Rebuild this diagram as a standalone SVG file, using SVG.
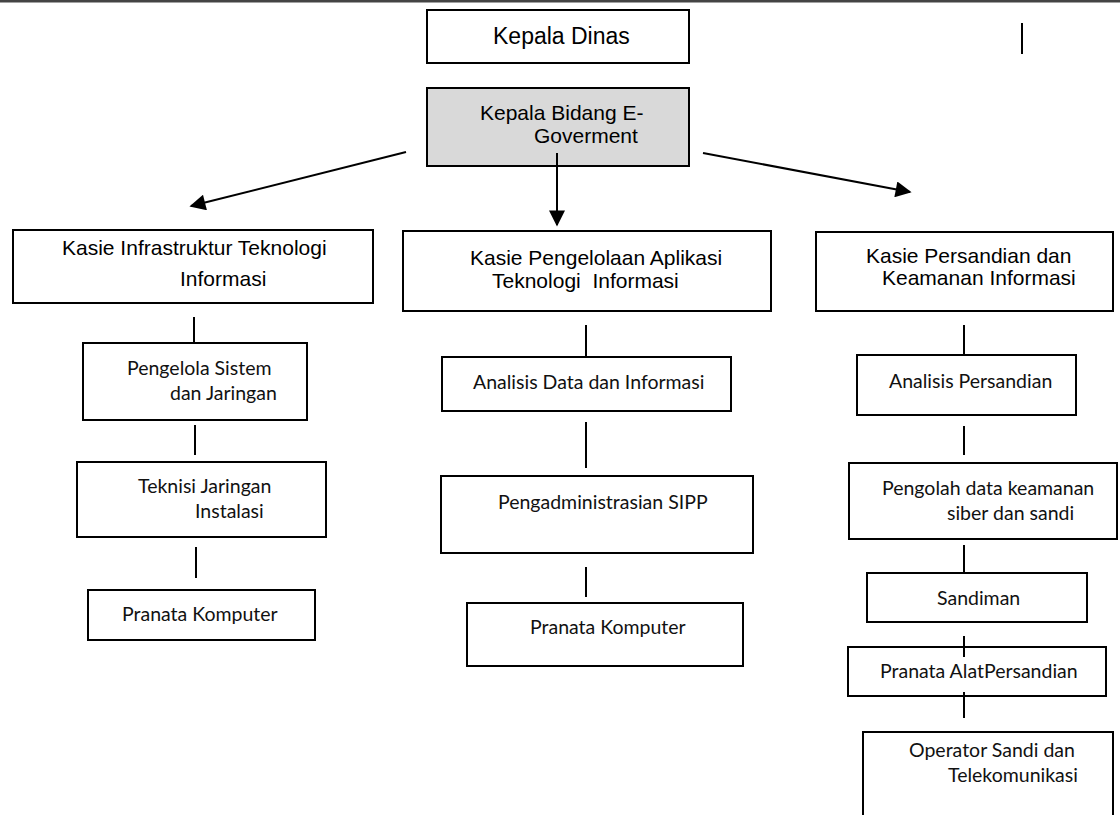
<svg xmlns="http://www.w3.org/2000/svg" width="1120" height="815" viewBox="0 0 1120 815">
  <style>
    .box { fill: #ffffff; stroke: #000000; stroke-width: 2; }
    .head { fill: #d9d9d9; stroke: #000000; stroke-width: 2; }
    .ar { font-family: "Liberation Sans", Arial, sans-serif; font-size: 21px; fill: #000000; }
    .big { font-size: 23px; }
    .cb { font-family: Lato, "Open Sans", "Liberation Sans", sans-serif; font-size: 19.5px; font-weight: 400; fill: #111111; }
    .ln { stroke: #000000; stroke-width: 2; fill: none; }
  </style>
  <defs>
    <marker id="arrow" viewBox="0 0 10 10" refX="9" refY="5" markerWidth="8.5" markerHeight="8" markerUnits="strokeWidth" orient="auto">
      <path d="M0,0 L10,5 L0,10 z" fill="#000000"/>
    </marker>
  </defs>

  <rect width="1120" height="815" fill="#ffffff"/>
  <!-- page rule at the top edge -->
  <line x1="0" y1="1" x2="1120" y2="1" stroke="#444444" stroke-width="3"/>
  <line x1="1022" y1="23" x2="1022" y2="54" class="ln"/>

  <g id="kepala-dinas">
    <rect x="427" y="10" width="262" height="53" class="box"/>
    <text x="493" y="44" class="ar big">Kepala Dinas</text>
  </g>

  <g id="kepala-bidang">
    <rect x="427" y="88" width="262" height="78" class="head"/>
    <text x="480" y="120" class="ar">Kepala Bidang E-</text>
    <text x="534" y="143" class="ar">Goverment</text>
  </g>

  <g id="kasie-infrastruktur">
    <rect x="13" y="230" width="360" height="73" class="box"/>
    <text x="62" y="255" class="ar">Kasie Infrastruktur Teknologi</text>
    <text x="180" y="286" class="ar">Informasi</text>
  </g>

  <g id="kasie-aplikasi">
    <rect x="403" y="231" width="368" height="80" class="box"/>
    <text x="470" y="265" class="ar">Kasie Pengelolaan Aplikasi</text>
    <text x="492" y="288" class="ar" xml:space="preserve">Teknologi  Informasi</text>
  </g>

  <g id="kasie-persandian">
    <rect x="816" y="232" width="297" height="79" class="box"/>
    <text x="866" y="263" class="ar">Kasie Persandian dan</text>
    <text x="882" y="285" class="ar">Keamanan Informasi</text>
  </g>

  <g id="pengelola-sistem">
    <rect x="83" y="343" width="224" height="77" class="box"/>
    <text x="127" y="375" class="cb">Pengelola Sistem</text>
    <text x="170" y="400" class="cb">dan Jaringan</text>
  </g>

  <g id="teknisi-jaringan">
    <rect x="77" y="462" width="249" height="75" class="box"/>
    <text x="138" y="493" class="cb">Teknisi Jaringan</text>
    <text x="195" y="518" class="cb">Instalasi</text>
  </g>

  <g id="pranata-komputer-1">
    <rect x="88" y="590" width="227" height="50" class="box"/>
    <text x="122" y="621" class="cb">Pranata Komputer</text>
  </g>

  <g id="analisis-data">
    <rect x="442" y="357" width="289" height="54" class="box"/>
    <text x="473" y="389" class="cb">Analisis Data dan Informasi</text>
  </g>

  <g id="pengadministrasian-sipp">
    <rect x="441" y="476" width="312" height="77" class="box"/>
    <text x="498" y="509" class="cb">Pengadministrasian SIPP</text>
  </g>

  <g id="pranata-komputer-2">
    <rect x="467" y="603" width="276" height="63" class="box"/>
    <text x="530" y="634" class="cb">Pranata Komputer</text>
  </g>

  <g id="analisis-persandian">
    <rect x="857" y="355" width="219" height="60" class="box"/>
    <text x="889" y="388" class="cb">Analisis Persandian</text>
  </g>

  <g id="pengolah-data">
    <rect x="849" y="463" width="268" height="76" class="box"/>
    <text x="882" y="495" class="cb">Pengolah data keamanan</text>
    <text x="947" y="520" class="cb">siber dan sandi</text>
  </g>

  <g id="sandiman">
    <rect x="867" y="573" width="220" height="49" class="box"/>
    <text x="937" y="605" class="cb">Sandiman</text>
  </g>

  <g id="pranata-alat-persandian">
    <rect x="848" y="647" width="258" height="49" class="box"/>
    <text x="880" y="678" class="cb">Pranata AlatPersandian</text>
  </g>

  <g id="operator-sandi">
    <rect x="863" y="732" width="250" height="100" class="box"/>
    <text x="909" y="757" class="cb">Operator Sandi dan</text>
    <text x="948" y="782" class="cb">Telekomunikasi</text>
  </g>

  <!-- connectors, drawn over the boxes where they overlap -->
  <g id="connectors">
    <line x1="406" y1="152" x2="191" y2="206" class="ln" marker-end="url(#arrow)"/>
    <line x1="557" y1="153" x2="557" y2="225" class="ln" marker-end="url(#arrow)"/>
    <line x1="703" y1="153" x2="910" y2="192" class="ln" marker-end="url(#arrow)"/>

    <line x1="194" y1="317" x2="194" y2="344" class="ln"/>
    <line x1="195" y1="425" x2="195" y2="455" class="ln"/>
    <line x1="196" y1="547" x2="196" y2="578" class="ln"/>

    <line x1="586" y1="325" x2="586" y2="357" class="ln"/>
    <line x1="586" y1="422" x2="586" y2="468" class="ln"/>
    <line x1="586" y1="567" x2="586" y2="597" class="ln"/>

    <line x1="964" y1="325" x2="964" y2="355" class="ln"/>
    <line x1="964" y1="426" x2="964" y2="455" class="ln"/>
    <line x1="964" y1="545" x2="964" y2="573" class="ln"/>
    <line x1="964" y1="636" x2="964" y2="657" class="ln"/>
    <line x1="964" y1="692" x2="964" y2="718" class="ln"/>
  </g>
</svg>
